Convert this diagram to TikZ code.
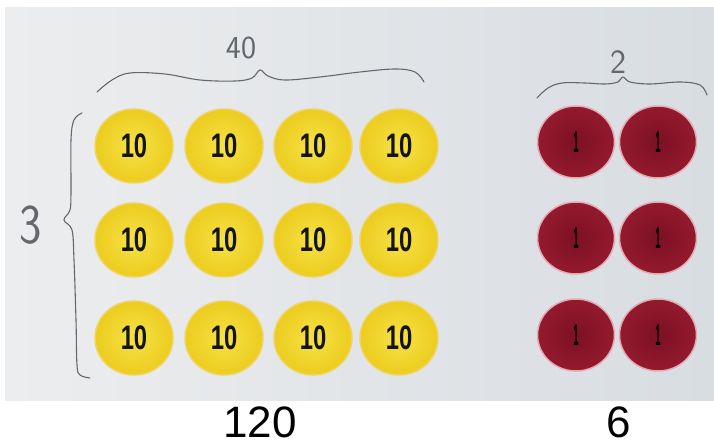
\documentclass[tikz,border=0pt]{standalone}
\usepackage{fontspec}
\setmainfont{Liberation Sans}
\usetikzlibrary{shapes.geometric}
\definecolor{bgL}{RGB}{236,237,238}
\definecolor{bgR}{RGB}{216,221,226}
\definecolor{yIn}{RGB}{246,226,70}
\definecolor{yOut}{RGB}{236,204,30}
\definecolor{yRim}{RGB}{240,212,100}
\definecolor{rIn}{RGB}{124,16,36}
\definecolor{rOut}{RGB}{148,26,46}
\definecolor{rRim}{RGB}{228,170,178}
\definecolor{pen}{RGB}{100,103,108}
\begin{document}
\begin{tikzpicture}[x=1pt,y=-1pt,
  tencoin/.style={ellipse, minimum width=78pt, minimum height=74pt, inner sep=0pt,
    inner color=yIn, outer color=yOut, draw=yRim, line width=1.5pt,
    font=\fontsize{34}{34}\bfseries, text=black!92},
  onecoin/.style={ellipse, minimum width=77pt, minimum height=72pt, inner sep=0pt,
    inner color=rIn, outer color=rOut, draw=rRim, line width=1.5pt,
    font=\fontsize{24}{24}\bfseries, text=black},
  hand/.style={text=pen},
  penline/.style={draw=pen, line width=1.1pt, line cap=round, line join=round},
  total/.style={font=\fontsize{44}{44}\selectfont, text=black, inner sep=0pt}]
\useasboundingbox (0,0) rectangle (714,446);
\fill[white] (0,0) rectangle (714,446);
\shade[left color=bgL, right color=bgR] (5,8) rectangle (714,400);

% tens
\foreach \r/\y in {1/146,2/240,3/338}{
  \foreach \c/\x in {1/134,2/224,3/313,4/399}{
    \node[tencoin] (t\r\c) at (\x,\y) {\scalebox{0.7}[1]{10}};
  }
}
% ones
\foreach \r/\y in {1/142,2/238,3/335}{
  \foreach \c/\x in {1/576,2/658}{
    \node[onecoin] (o\r\c) at (\x,\y) {\scalebox{0.4}[1.25]{1}};
  }
}

% top brace 40
\draw[penline] plot[smooth, tension=0.6] coordinates {(97,92) (112,80) (130,73) (165,74) (200,80) (235,81) (252,78) (260,70) (268,76) (285,80) (320,77) (360,72) (395,69) (415,72) (424,82)};
\node[hand, font=\sffamily\fontsize{32}{32}\selectfont] (n40) at (241,48) {40};

% top brace 2
\draw[penline] plot[smooth, tension=0.6] coordinates {(537,98) (548,88) (562,83) (585,83) (605,84) (618,82) (623,77) (630,82) (650,84) (680,82) (700,85) (707,95)};
\node[hand, font=\sffamily\fontsize{34}{34}\selectfont] (n2) at (618,62) {2};

% left brace 3
\draw[penline] plot[smooth, tension=0.6] coordinates {(82,113) (74,120) (71,140) (71,190) (70,210) (64,220) (72,230) (74,260) (76,320) (77,365) (80,375) (90,378)};
\node[hand, font=\sffamily\fontsize{56}{56}\selectfont] (n3) at (31,225) {\scalebox{0.85}[1]{3}};

% totals
\node[total] (s120) at (260,422) {120};
\node[total] (s6) at (619,422) {6};
\end{tikzpicture}
\end{document}
